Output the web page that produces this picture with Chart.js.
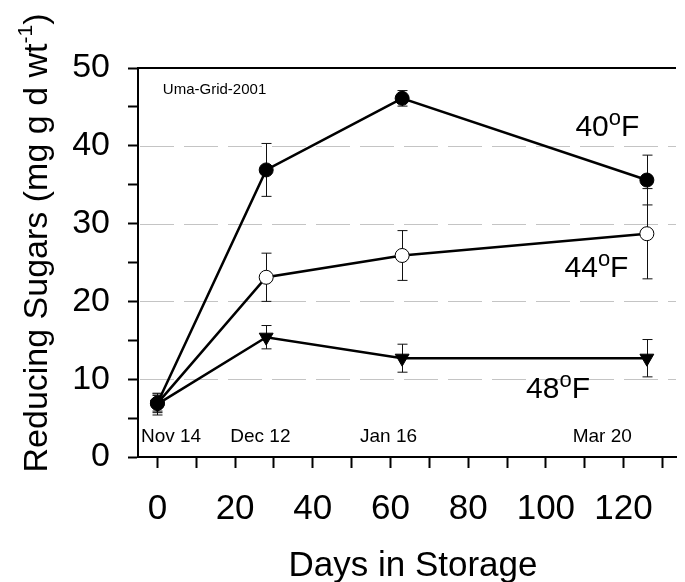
<!DOCTYPE html>
<html>
<head>
<meta charset="utf-8">
<script src="https://cdn.jsdelivr.net/npm/chart.js@4.4.1/dist/chart.umd.min.js"></script>
<style>
  html, body { margin: 0; padding: 0; background: #fff; }
  #wrap { width: 685px; height: 582px; }
</style>
</head>
<body>
<div id="wrap"><canvas id="grafico"></canvas></div>
<script>
// days in storage and sampling dates
const days = [0, 28, 63, 126];
const dates = ["Nov 14", "Dec 12", "Jan 16", "Mar 20"];

// reducing sugars (mg g d wt-1) with +/- error
const sugar40 = [6.9, 36.9, 46.1, 35.6];
const err40 = [1.0, 3.4, 1.0, 3.2];
const sugar44 = [6.9, 23.1, 25.9, 28.7];
const err44 = [1.2, 3.1, 3.2, 5.8];
const sugar48 = [6.8, 15.4, 12.7, 12.7];
const err48 = [1.4, 1.5, 1.8, 2.4];

const xTicks = [0, 10, 20, 30, 40, 50, 60, 70, 80, 90, 100, 110, 120, 130];
const yTicks = [0, 5, 10, 15, 20, 25, 30, 35, 40, 45, 50];

const FONT = "'Liberation Sans', Arial, sans-serif";

function pts(vals) {
  return vals.map((v, i) => ({ x: days[i], y: v }));
}

// text with a raised small part, e.g. 40 + o + F
function drawParts(ctx, parts, x, y, align) {
  let w = 0;
  parts.forEach(p => { ctx.font = p.size + "px " + FONT; w += ctx.measureText(p.t).width; });
  let cx = align === 'center' ? x - w / 2 : x;
  parts.forEach(p => {
    ctx.font = p.size + "px " + FONT;
    ctx.fillText(p.t, cx, y - (p.up || 0));
    cx += ctx.measureText(p.t).width;
  });
}

const extras = {
  id: 'extras',
  beforeDatasetsDraw(chart) {
    const { ctx, chartArea: a, scales: { x, y } } = chart;
    ctx.save();
    // dashed grid at the labelled values
    ctx.strokeStyle = '#c4c4c4';
    ctx.lineWidth = 1;
    ctx.setLineDash([34, 10]);
    y.ticks.forEach(t => {
      if (t.value % 10 !== 0 || t.value <= 0 || t.value >= 50) return;
      const py = Math.round(y.getPixelForValue(t.value)) + 0.5;
      ctx.beginPath();
      ctx.moveTo(a.left + 2, py);
      ctx.lineTo(a.right, py);
      ctx.stroke();
    });
    ctx.setLineDash([]);
    // top frame
    ctx.strokeStyle = '#000';
    ctx.lineWidth = 2;
    ctx.beginPath();
    ctx.moveTo(a.left, a.top);
    ctx.lineTo(a.right, a.top);
    ctx.stroke();
    // error bars
    ctx.lineWidth = 1;
    ctx.strokeStyle = '#111';
    [[sugar40, err40], [sugar44, err44], [sugar48, err48]].forEach(([vals, errs]) => {
      vals.forEach((v, i) => {
        const px = Math.round(x.getPixelForValue(days[i])) + 0.5;
        const hi = y.getPixelForValue(v + errs[i]);
        const lo = y.getPixelForValue(v - errs[i]);
        ctx.beginPath();
        ctx.moveTo(px, hi); ctx.lineTo(px, lo);
        ctx.moveTo(px - 5, hi); ctx.lineTo(px + 5, hi);
        ctx.moveTo(px - 5, lo); ctx.lineTo(px + 5, lo);
        ctx.stroke();
      });
    });
    ctx.restore();
  },
  afterDraw(chart) {
    const { ctx, chartArea: a, scales: { x, y } } = chart;
    ctx.save();
    ctx.fillStyle = '#000';
    ctx.textBaseline = 'alphabetic';
    ctx.textAlign = 'left';

    // date labels along the bottom
    ctx.font = "19px " + FONT;
    const dateX = [3.5, 26.5, 59.5, 114.5];
    dates.forEach((d, i) => {
      ctx.textAlign = 'center';
      ctx.fillText(d, x.getPixelForValue(dateX[i]), y.getPixelForValue(1.9));
    });
    ctx.textAlign = 'left';

    ctx.font = "15px " + FONT;
    ctx.fillText("Uma-Grid-2001", x.getPixelForValue(1.4), y.getPixelForValue(46.7));

    // temperature labels
    const temps = [["40", 107.6, 41.3], ["44", 104.8, 23.1], ["48", 94.9, 7.6]];
    temps.forEach(([t, dx, dy]) => {
      drawParts(ctx, [
        { t: t, size: 30 },
        { t: "o", size: 22, up: 11 },
        { t: "F", size: 30 }
      ], x.getPixelForValue(dx), y.getPixelForValue(dy), 'left');
    });

    // axis titles
    ctx.font = "35px " + FONT;
    ctx.textAlign = 'center';
    ctx.fillText("Days in Storage", (a.left + a.right) / 2 + 6, 576);

    ctx.translate(47, 243);
    ctx.rotate(-Math.PI / 2);
    ctx.textAlign = 'left';
    drawParts(ctx, [
      { t: "Reducing Sugars (mg g d wt", size: 34 },
      { t: "-1", size: 21, up: 15 },
      { t: ")", size: 34 }
    ], 0, 0, 'center');
    ctx.restore();
  }
};

const lineStyle = {
  borderColor: '#000',
  borderWidth: 2.5,
  pointBorderColor: '#000',
  pointBorderWidth: 1,
  tension: 0
};

new Chart(document.getElementById('grafico').getContext('2d'), {
  type: 'line',
  data: {
    datasets: [
      Object.assign({ label: '40F', data: pts(sugar40), pointStyle: 'circle', pointRadius: 7, pointBackgroundColor: '#000' }, lineStyle),
      Object.assign({ label: '44F', data: pts(sugar44), pointStyle: 'circle', pointRadius: 7, pointBackgroundColor: '#fff' }, lineStyle),
      Object.assign({ label: '48F', data: pts(sugar48), pointStyle: 'triangle', pointRotation: 180, pointRadius: 8, pointBackgroundColor: '#000' }, lineStyle)
    ]
  },
  options: {
    responsive: true,
    maintainAspectRatio: false,
    animation: false,
    layout: { padding: { top: 68, right: 0, bottom: 0, left: 0 } },
    plugins: { legend: { display: false }, tooltip: { enabled: false }, title: { display: false } },
    scales: {
      x: {
        type: 'linear',
        min: -5,
        max: 133.5,
        afterBuildTicks: s => { s.ticks = xTicks.map(v => ({ value: v })); },
        afterFit: s => { s.height = 125; },
        grid: { drawOnChartArea: false, drawTicks: true, tickLength: 11, tickColor: '#000', tickWidth: 2 },
        border: { color: '#000', width: 2 },
        ticks: {
          autoSkip: false,
          maxRotation: 0,
          padding: 20,
          color: '#000',
          font: { family: FONT, size: 35 },
          callback: v => (v % 20 === 0 ? String(v) : '')
        }
      },
      y: {
        min: 0,
        max: 50,
        afterBuildTicks: s => { s.ticks = yTicks.map(v => ({ value: v })); },
        afterFit: s => { s.width = 138; },
        grid: { drawOnChartArea: false, drawTicks: true, tickLength: 10, tickColor: '#000', tickWidth: 2 },
        border: { color: '#000', width: 2 },
        ticks: {
          autoSkip: false,
          padding: 18,
          color: '#000',
          font: { family: FONT, size: 34 },
          callback: v => (v % 10 === 0 ? String(v) : '')
        }
      }
    }
  },
  plugins: [extras]
});
</script>
</body>
</html>
